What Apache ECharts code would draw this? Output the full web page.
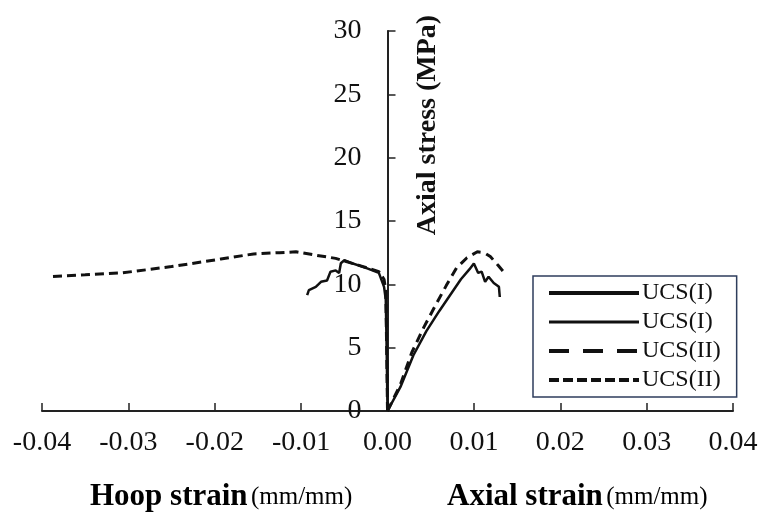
<!DOCTYPE html>
<html>
<head>
<meta charset="utf-8">
<script src="https://cdn.jsdelivr.net/npm/echarts@6/dist/echarts.min.js"></script>
<style>html,body{margin:0;padding:0;background:#fff}#c{width:765px;height:520px}</style>
</head>
<body>
<div id="c"></div>
<script>
// Axial side (positive strain) and hoop side (negative strain): [strain, stress MPa]
var ucs1Axial = [[0,0],[0.0015,1.9],[0.003,4.4],[0.0045,6.3],[0.006,7.9],[0.0072,9.1],[0.0085,10.4],[0.0095,11.2],[0.0100,11.65],[0.0105,10.9],[0.0109,11.0],[0.0113,10.2],[0.0117,10.6],[0.0123,10.1],[0.0129,9.8],[0.0130,9.0]];
var ucs1Hoop = [[0,0],[-0.0001,5],[-0.0002,8.8],[-0.0004,9.8],[-0.0010,10.9],[-0.0025,11.3],[-0.0041,11.66],[-0.0050,11.9],[-0.0054,11.66],[-0.0056,10.9],[-0.0060,11.1],[-0.0066,11.0],[-0.0070,10.3],[-0.0077,10.2],[-0.0083,9.8],[-0.0091,9.55],[-0.0093,9.15]];
var ucs2Axial = [[0,0],[0.0015,2.1],[0.0028,4.6],[0.0042,6.6],[0.0056,8.4],[0.0068,9.9],[0.0080,11.3],[0.0092,12.1],[0.0104,12.57],[0.0112,12.5],[0.0119,12.2],[0.0128,11.5],[0.0138,10.7]];
var ucs2Hoop = [[0,0],[-0.0001,5],[-0.0002,9.5],[-0.0004,10.4],[-0.0010,11.0],[-0.0033,11.5],[-0.0060,12.05],[-0.0083,12.3],[-0.0106,12.57],[-0.0125,12.5],[-0.0155,12.4],[-0.0193,12.0],[-0.0250,11.4],[-0.0308,10.9],[-0.0350,10.75],[-0.0393,10.6]];
var legendLabels = ['UCS(I)', 'UCS(I)', 'UCS(II)', 'UCS(II)'];
var xTickLabels = ['-0.04','-0.03','-0.02','-0.01','0.00','0.01','0.02','0.03','0.04'];
var yTicks = [0, 5, 10, 15, 20, 25, 30];

var serif = 'Liberation Serif';
var ink = '#111';
var names = ['s1a', 's1h', 's2a', 's2h'];
var gridLeft = 42, gridRight = 32;
var chart = echarts.init(document.getElementById('c'));
function mk(name, data, type, w) {
  return {name: name, type: 'line', data: data, showSymbol: false, symbol: 'none',
    lineStyle: {color: ink, width: w, type: type}, itemStyle: {color: ink}, animation: false};
}
var plotW = 765 - gridLeft - gridRight;
var noSym = {color: 'transparent', borderColor: 'transparent', borderWidth: 0, opacity: 0};
chart.setOption({
  animation: false,
  grid: {left: gridLeft, right: gridRight, top: 31, bottom: 109, outerBoundsMode: 'none', containLabel: false},
  xAxis: {
    type: 'value', min: -0.04, max: 0.04, interval: 0.01,
    axisLine: {lineStyle: {color: '#222', width: 2}},
    axisTick: {inside: true, length: 8, lineStyle: {color: '#222', width: 1.5}},
    splitLine: {show: false},
    axisLabel: {fontFamily: serif, fontSize: 28, color: ink, margin: 18,
      formatter: function (v) { var i = Math.round((v + 0.04) / 0.01); return xTickLabels[i]; }}
  },
  yAxis: {
    type: 'value', min: yTicks[0], max: yTicks[yTicks.length - 1], interval: 5,
    offset: -plotW / 2,
    axisLine: {onZero: false, lineStyle: {color: '#222', width: 2}},
    axisTick: {inside: true, length: 8, lineStyle: {color: '#222', width: 1.5}},
    splitLine: {show: false},
    axisLabel: {fontFamily: serif, fontSize: 28, color: ink, margin: 26}
  },
  legend: {
    orient: 'vertical', left: 533, top: 276,
    borderColor: '#2e3d5c', borderWidth: 1.5, padding: [5, 16, 5, 14],
    itemWidth: 90, itemHeight: 14, itemGap: 5,
    textStyle: {fontFamily: serif, fontSize: 24, color: ink, padding: [0, 0, 0, -2]},
    formatter: function (n) { return legendLabels[names.indexOf(n)]; },
    data: [
      {name: 's1a', itemStyle: noSym, lineStyle: {width: 4, type: 'solid', color: ink}},
      {name: 's1h', itemStyle: noSym, lineStyle: {width: 3, type: 'solid', color: ink}},
      {name: 's2a', itemStyle: noSym, lineStyle: {width: 4, type: [20, 14], color: ink}},
      {name: 's2h', itemStyle: noSym, lineStyle: {width: 4, type: [10, 4], color: ink}}
    ]
  },
  series: [
    mk('s1a', ucs1Axial, 'solid', 2.5),
    mk('s1h', ucs1Hoop, 'solid', 2.5),
    mk('s2a', ucs2Axial, [9, 6], 3),
    mk('s2h', ucs2Hoop, [9, 5], 3)
  ],
  graphic: [
    {type: 'text', x: 428, y: 125, rotation: Math.PI / 2,
      style: {text: 'Axial stress (MPa)', font: 'bold 28px "Liberation Serif"', fill: ink, align: 'center', verticalAlign: 'middle'}},
    {type: 'text', x: 90, y: 497,
      style: {text: '{b|Hoop strain} {n|(mm/mm)}', verticalAlign: 'middle', align: 'left',
        rich: {b: {fontFamily: serif, fontWeight: 'bold', fontSize: 31, color: ink},
               n: {fontFamily: serif, fontSize: 25, color: ink}}}},
    {type: 'text', x: 447, y: 497,
      style: {text: '{b|Axial strain} {n|(mm/mm)}', verticalAlign: 'middle', align: 'left',
        rich: {b: {fontFamily: serif, fontWeight: 'bold', fontSize: 31, color: ink},
               n: {fontFamily: serif, fontSize: 25, color: ink}}}}
  ]
});
</script>
</body>
</html>
